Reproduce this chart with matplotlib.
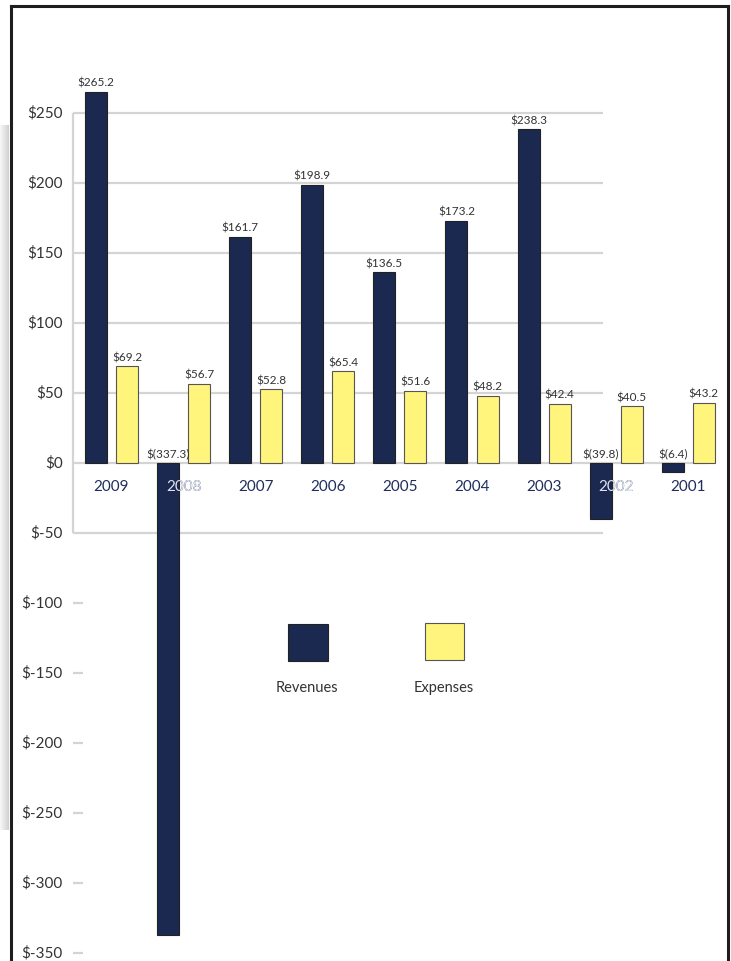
import numpy as np
import matplotlib.pyplot as plt
from matplotlib.patches import Rectangle
from matplotlib.lines import Line2D

plt.rcParams['font.family'] = ['Lato', 'DejaVu Sans']

years = ['2009', '2008', '2007', '2006', '2005', '2004', '2003', '2002', '2001']
revenues = [265.2, -337.3, 161.7, 198.9, 136.5, 173.2, 238.3, -39.8, -6.4]
expenses = [69.2, 56.7, 52.8, 65.4, 51.6, 48.2, 42.4, 40.5, 43.2]
grid_ticks = [250, 200, 150, 100, 50, 0, -50]
low_ticks = [-100, -150, -200, -250, -300, -350]

NAVY = '#1b2951'
YELLOW = '#fff47c'
W, H = 731, 961


def money(v):
    if v < 0:
        return '$(%.1f)' % -v
    return '$%.1f' % v


def fx(p):
    return p / W


def fy(p):
    return 1 - p / H


fig = plt.figure(figsize=(W / 100, H / 100), dpi=100)
ax = fig.add_axes([0, 0, 1, 1])
ax.set_axis_off()

# pixel 463 is $0, 1.4 px per dollar; groups 72.1 px apart
ax.set_ylim((463 - H) / 1.4, 463 / 1.4)
ax.set_xlim((0 - 111.5) / 72.1, (W - 111.5) / 72.1)
gx0 = (73 - 111.5) / 72.1
gx1 = (603 - 111.5) / 72.1
zx1 = (708 - 111.5) / 72.1

for t in grid_ticks:
    ax.hlines(t, gx0, zx1 if t == 0 else gx1, color='#d4d4d4', lw=1.6, zorder=1)
    ax.text(gx0 - 0.14, t, '$%d' % t, ha='right', va='center', fontsize=11, color='#333333')
ax.vlines(gx0, -50, 250, color='#d4d4d4', lw=1.6, zorder=1)
for t in low_ticks:
    ax.hlines(t, gx0, gx0 + 0.14, color='#d4d4d4', lw=1.6, zorder=1)
    ax.text(gx0 - 0.14, t, '$%d' % t, ha='right', va='center', fontsize=11, color='#333333')

x = np.arange(len(years))
bw = 22 / 72.1
off = 0.215
rev_bars = ax.bar(x - off, revenues, bw, color=NAVY, edgecolor='#222222', lw=0.8, zorder=3)
ax.bar(x + off, expenses, bw, color=YELLOW, edgecolor='#555555', lw=0.8, zorder=3)

for i in range(len(years)):
    ax.annotate(money(revenues[i]), (x[i] - off, max(revenues[i], 0)), xytext=(0, 2),
                textcoords='offset points', ha='center', va='bottom', fontsize=8.5, color='#333333', zorder=4)
    ax.annotate(money(expenses[i]), (x[i] + off, expenses[i]), xytext=(0, 2),
                textcoords='offset points', ha='center', va='bottom', fontsize=8.5, color='#333333', zorder=4)
    ax.text(x[i], -17, years[i], ha='center', va='center', fontsize=11, color='#1f2d5c', zorder=2)
    # light copy of the year where it sits on a negative bar
    if revenues[i] < -17:
        t = ax.text(x[i], -17, years[i], ha='center', va='center', fontsize=11, color='#dfe3ee', zorder=5)
        t.set_clip_path(rev_bars[i])

# legend
fig.patches.append(Rectangle((fx(288), fy(661)), fx(40), 37 / H, transform=fig.transFigure,
                             facecolor=NAVY, edgecolor='#222222', lw=0.8))
fig.patches.append(Rectangle((fx(425), fy(660)), fx(39), 37 / H, transform=fig.transFigure,
                             facecolor=YELLOW, edgecolor='#555555', lw=0.8))
fig.text(fx(307), fy(688), 'Revenues', ha='center', va='center', fontsize=10.5, color='#333333')
fig.text(fx(444), fy(688), 'Expenses', ha='center', va='center', fontsize=10.5, color='#333333')

# outer frame, open at the bottom
frame = [([fx(11), fx(11)], [0, fy(6)]), ([fx(11), fx(728)], [fy(6), fy(6)]),
         ([fx(728), fx(728)], [fy(6), 0])]
for xs, ys in frame:
    fig.add_artist(Line2D(xs, ys, color='#1e1e1e', lw=2.2, transform=fig.transFigure))

# soft grey shade on the left edge
sh = fig.add_axes([0, fy(830), fx(9), (830 - 125) / H])
grad = np.linspace(0.97, 0.82, 20).reshape(1, -1)
sh.imshow(np.repeat(grad, 10, axis=0), cmap='gray', vmin=0, vmax=1, aspect='auto')
sh.set_axis_off()

fig.savefig('out.png', dpi=100)
